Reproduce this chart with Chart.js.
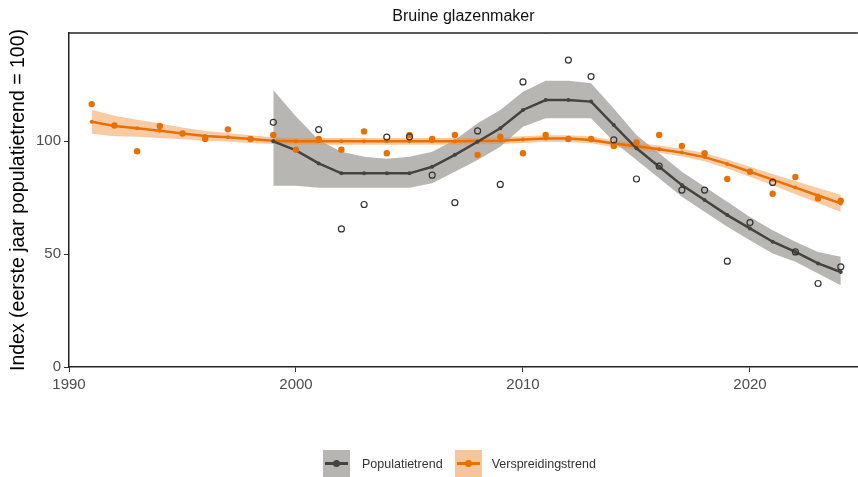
<!DOCTYPE html>
<html>
<head>
<meta charset="utf-8">
<script src="https://cdn.jsdelivr.net/npm/chart.js@4.4.1/dist/chart.umd.min.js"></script>
<style>
  body { margin: 0; background: #fff; font-family: "Liberation Sans", Arial, sans-serif; overflow: hidden; }
  #wrap { position: relative; width: 858px; height: 477px; overflow: hidden; }
  #legend { position: absolute; top: 450px; left: 323px; display: flex; align-items: center; font-size: 12.5px; color: #333; }
  .key { width: 27px; height: 27px; position: relative; }
  .key .ln { position: absolute; left: 2px; right: 2px; top: 12px; height: 3px; }
  .key .dt { position: absolute; left: 10px; top: 10px; width: 7px; height: 7px; border-radius: 50%; }
</style>
</head>
<body>
<div id="wrap">
  <canvas id="chart" width="863" height="477"></canvas>
  <div id="legend">
    <div class="key" style="background:#b7b5b2"><div class="ln" style="background:#454341"></div><div class="dt" style="background:#454341"></div></div>
    <span style="margin-left:12px;margin-right:12px">Populatietrend</span>
    <div class="key" style="background:#f7c59a"><div class="ln" style="background:#e87000"></div><div class="dt" style="background:#e87000"></div></div>
    <span style="margin-left:10px">Verspreidingstrend</span>
  </div>
</div>
<script>
// index values
const popPointYears = [1999, 2001, 2002, 2003, 2004, 2005, 2006, 2007, 2008, 2009, 2010, 2011, 2012, 2013, 2014, 2015, 2016, 2017, 2018, 2019, 2020, 2021, 2022, 2023, 2024];
const popPoints = [108.4, 105.2, 61.2, 72, 101.9, 102, 85, 72.8, 104.6, 80.9, 126.3, 149.5, 136, 128.7, 100.6, 83.3, 89, 78.4, 78.4, 46.9, 64, 81.8, 51, 37, 44.4];

const verPointYears = [1991, 1992, 1993, 1994, 1995, 1996, 1997, 1998, 1999, 2000, 2001, 2002, 2003, 2004, 2005, 2006, 2007, 2008, 2009, 2010, 2011, 2012, 2013, 2014, 2015, 2016, 2017, 2018, 2019, 2020, 2021, 2022, 2023, 2024];
const verPoints = [116.5, 107, 95.6, 106.8, 103.5, 101, 105.3, 101, 102.8, 96.3, 101, 96.3, 104.4, 94.7, 102.8, 101, 102.8, 94, 102, 94.7, 102.8, 101, 101, 97.9, 99.5, 102.8, 97.9, 94.7, 83.3, 86.5, 76.8, 84.2, 74.7, 73.7];

const popTrendYears = [1999, 2000, 2001, 2002, 2003, 2004, 2005, 2006, 2007, 2008, 2009, 2010, 2011, 2012, 2013, 2014, 2015, 2016, 2017, 2018, 2019, 2020, 2021, 2022, 2023, 2024];
const popTrend = [100, 96, 90.2, 85.8, 85.8, 85.8, 85.8, 88.7, 94, 99.8, 105.8, 113.9, 118.3, 118.3, 117.6, 107.2, 96.9, 88.7, 80.6, 74, 67.3, 61.4, 55.5, 51, 45.9, 42.1];
const popUpper = [122.7, 111, 100.6, 95.4, 93.2, 92.3, 93.2, 95.4, 100.6, 108, 113.9, 122, 126.8, 126.8, 125.7, 114.6, 102.8, 94.7, 86.5, 79.9, 73.2, 66.5, 60.6, 55.5, 51, 48.8];
const popLower = [80.3, 80.3, 79.4, 79.4, 79.4, 79.4, 79.4, 81.4, 86.5, 91.7, 97.6, 106.5, 110.2, 110.2, 110.2, 99.8, 91.7, 83.6, 75.4, 68.8, 62.1, 56.2, 50.3, 46.6, 41.4, 36.2];

const verTrendYears = verPointYears;
const verTrend = [108.7, 106.8, 105.8, 104.7, 103.5, 102.4, 101.8, 101, 100.3, 100, 100, 100, 100, 100, 100, 100, 100, 100.1, 100.3, 100.8, 101.2, 101.2, 100.6, 99, 97.8, 96.5, 95, 93, 90, 86.5, 83, 79.5, 76, 72.5];
const verUpper = [114, 111.3, 109.6, 107.9, 106.1, 104.6, 103.7, 102.7, 101.8, 101.5, 101.5, 101.5, 101.5, 101.5, 101.5, 101.5, 101.5, 101.6, 101.8, 102.3, 102.7, 102.7, 102.1, 100.5, 99.3, 98.1, 96.7, 94.8, 92, 88.7, 85.5, 82.4, 79.3, 76.3];
const verLower = [103.4, 102.3, 102, 101.5, 100.9, 100.2, 99.9, 99.3, 98.8, 98.5, 98.5, 98.5, 98.5, 98.5, 98.5, 98.5, 98.5, 98.6, 98.8, 99.3, 99.7, 99.7, 99.1, 97.5, 96.3, 94.9, 93.3, 91.2, 88, 84.3, 80.5, 76.6, 72.7, 68.7];

const xTicks = [1990, 2000, 2010, 2020];
const yTicks = [0, 50, 100];

const pairs = (xs, ys) => xs.map((x, i) => ({ x: x, y: ys[i] }));

const greyLine = "#454341";
const orange = "#e87000";

// panel top border + title centred over the panel
const panelExtras = {
  id: "panelExtras",
  afterDatasetsDraw(chart) {
    const { ctx, chartArea } = chart;
    ctx.save();
    ctx.strokeStyle = "#222";
    ctx.lineWidth = 1.5;
    ctx.beginPath();
    ctx.moveTo(chartArea.left, chartArea.top);
    ctx.lineTo(chartArea.right, chartArea.top);
    ctx.stroke();
    ctx.fillStyle = "#111";
    ctx.font = "16px 'Liberation Sans'";
    ctx.textAlign = "center";
    ctx.textBaseline = "middle";
    const cx = (chartArea.left + Math.min(chartArea.right, 858)) / 2;
    ctx.fillText("Bruine glazenmaker", cx, 17);
    ctx.restore();
  },
};

let ctx = document.getElementById("chart").getContext("2d");
let trendChart = new Chart(ctx, {
  type: "line",
  data: {
    datasets: [
      {
        label: "Populatie index",
        data: pairs(popPointYears, popPoints),
        showLine: false,
        pointRadius: 3,
        pointBorderWidth: 1.2,
        pointBorderColor: "#333",
        pointBackgroundColor: "rgba(255,255,255,0)",
      },
      {
        label: "Verspreiding index",
        data: pairs(verPointYears, verPoints),
        showLine: false,
        pointRadius: 3.2,
        pointBorderWidth: 0,
        pointBackgroundColor: orange,
      },
      {
        label: "Populatietrend",
        data: pairs(popTrendYears, popTrend),
        borderColor: greyLine,
        borderWidth: 2.5,
        pointRadius: 2,
        pointBorderWidth: 0,
        pointBackgroundColor: greyLine,
        fill: false,
      },
      {
        label: "Verspreidingstrend",
        data: pairs(verTrendYears, verTrend),
        borderColor: orange,
        borderWidth: 2.5,
        pointRadius: 2,
        pointBorderWidth: 0,
        pointBackgroundColor: orange,
        fill: false,
      },
      {
        label: "ver lower",
        data: pairs(verTrendYears, verLower),
        borderWidth: 0,
        pointRadius: 0,
        fill: false,
      },
      {
        label: "ver upper",
        data: pairs(verTrendYears, verUpper),
        borderWidth: 0,
        pointRadius: 0,
        backgroundColor: "rgba(240,140,55,0.45)",
        fill: "-1",
      },
      {
        label: "pop lower",
        data: pairs(popTrendYears, popLower),
        borderWidth: 0,
        pointRadius: 0,
        fill: false,
      },
      {
        label: "pop upper",
        data: pairs(popTrendYears, popUpper),
        borderWidth: 0,
        pointRadius: 0,
        backgroundColor: "rgba(140,137,132,0.62)",
        fill: "-1",
      },
    ],
  },
  options: {
    responsive: false,
    animation: false,
    events: [],
    layout: { padding: { left: 0, right: 0, top: 33, bottom: 0 } },
    plugins: {
      legend: { display: false },
      tooltip: { enabled: false },
      title: { display: false },
    },
    scales: {
      x: {
        type: "linear",
        min: 1990,
        max: 2024.75,
        afterBuildTicks: (scale) => { scale.ticks = xTicks.map((v) => ({ value: v })); },
        afterFit: (scale) => { scale.height = 110; },
        border: { display: true, color: "#222", width: 1.5 },
        grid: { display: true, drawOnChartArea: false, drawTicks: true, tickLength: 5, color: "#333" },
        ticks: { color: "#4d4d4d", font: { family: "Liberation Sans", size: 15 }, padding: 4, maxRotation: 0, callback: (v) => String(v) },
      },
      y: {
        min: 0,
        max: 148,
        afterBuildTicks: (scale) => { scale.ticks = yTicks.map((v) => ({ value: v })); },
        afterFit: (scale) => { scale.width = 69; },
        border: { display: true, color: "#222", width: 1.5 },
        grid: { display: true, drawOnChartArea: false, drawTicks: true, tickLength: 5, color: "#333" },
        ticks: { color: "#4d4d4d", font: { family: "Liberation Sans", size: 15 }, padding: 3, callback: (v) => String(v) },
        title: {
          display: true,
          text: "Index (eerste jaar populatietrend = 100)",
          color: "#000",
          font: { family: "Liberation Sans", size: 19.5 },
          padding: { top: 7, bottom: 0 },
        },
      },
    },
  },
  plugins: [panelExtras],
});
</script>
</body>
</html>
